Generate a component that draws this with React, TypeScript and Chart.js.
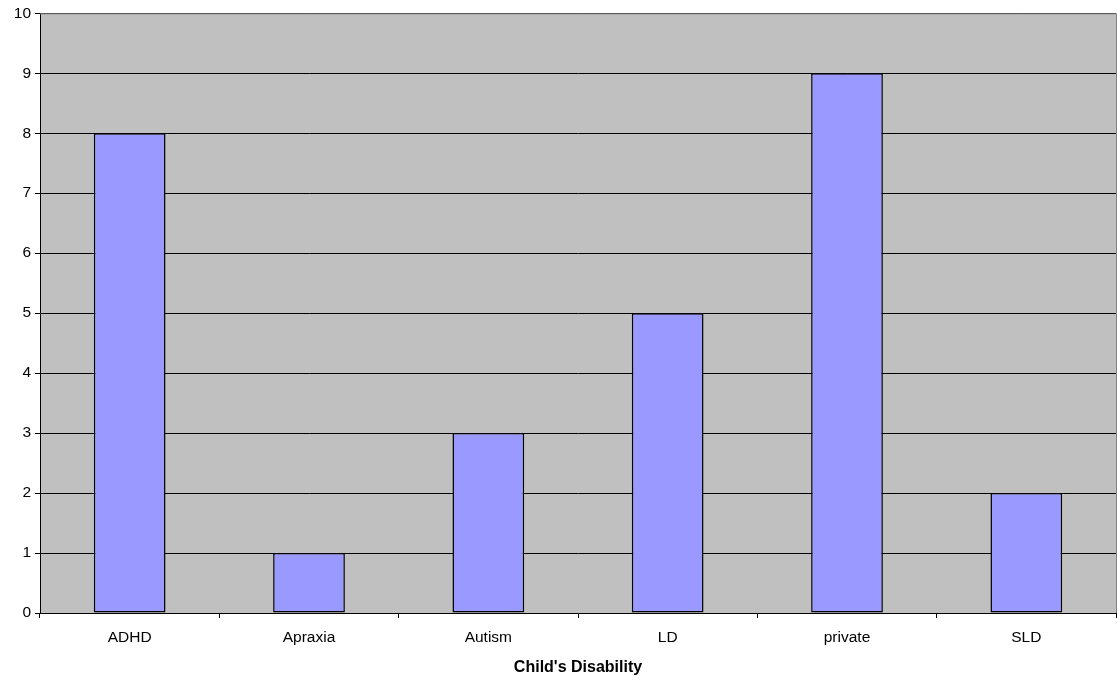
import React, { useEffect, useRef } from "react";
import { Chart, registerables } from "chart.js";

Chart.register(...registerables);

const categories = ["ADHD", "Apraxia", "Autism", "LD", "private", "SLD"];
const counts = [8, 1, 3, 5, 9, 2];
const axisTitle = "Child's Disability";

const plotBg = {
  id: "plotBg",
  beforeDraw(chart: any) {
    const { ctx, chartArea } = chart;
    if (!chartArea) return;
    ctx.save();
    ctx.fillStyle = "#C0C0C0";
    ctx.fillRect(chartArea.left, chartArea.top, chartArea.right - chartArea.left, chartArea.bottom - chartArea.top);
    ctx.restore();
  },
  afterDraw(chart: any) {
    const { ctx, chartArea } = chart;
    ctx.save();
    ctx.strokeStyle = "#808080";
    ctx.lineWidth = 1;
    ctx.beginPath();
    ctx.moveTo(chartArea.left, chartArea.top + 0.5);
    ctx.lineTo(chartArea.right + 0.5, chartArea.top + 0.5);
    ctx.lineTo(chartArea.right + 0.5, chartArea.bottom);
    ctx.stroke();
    ctx.restore();
  },
};

export default function App() {
  const ref = useRef<HTMLCanvasElement>(null);
  useEffect(() => {
    if (!ref.current) return;
    Chart.defaults.font.family = "'Liberation Sans', Arial, sans-serif";
    Chart.defaults.color = "#000";
    const chart = new Chart(ref.current, {
      type: "bar",
      data: {
        labels: categories,
        datasets: [
          {
            data: counts,
            backgroundColor: "#9999FF",
            borderColor: "#000000",
            borderWidth: 1.5,
            borderSkipped: false,
            barPercentage: 0.4,
            categoryPercentage: 1,
          },
        ],
      },
      options: {
        animation: false,
        responsive: false,
        maintainAspectRatio: false,
        layout: { padding: { top: 13, right: 1, left: 0, bottom: 0 } },
        plugins: { legend: { display: false }, tooltip: { enabled: false } },
        scales: {
          x: {
            grid: { drawOnChartArea: false, drawTicks: true, tickLength: 5, color: "#000", offset: true },
            border: { color: "#000", width: 1 },
            ticks: { font: { size: 15.5 }, padding: 10, color: "#000", maxRotation: 0 },
            title: { display: true, text: axisTitle, font: { size: 16, weight: "bold" }, padding: { top: 4, bottom: 4 }, color: "#000" },
            afterFit(scale: any) {
              scale.height = 68;
            },
          },
          y: {
            min: 0,
            max: 10,
            ticks: { stepSize: 1, font: { size: 15.5 }, padding: 4, color: "#000" },
            grid: { color: "#000", tickLength: 5, lineWidth: 1 },
            border: { color: "#000", width: 1 },
            afterFit(scale: any) {
              scale.width = 40;
            },
          },
        },
      },
      plugins: [plotBg],
    });
    return () => chart.destroy();
  }, []);
  return (
    <div style={{ position: "absolute", left: 0, top: 0, width: 1117, height: 681, background: "#fff" }}>
      <canvas ref={ref} width={1117} height={681} style={{ width: 1117, height: 681 }} />
    </div>
  );
}
